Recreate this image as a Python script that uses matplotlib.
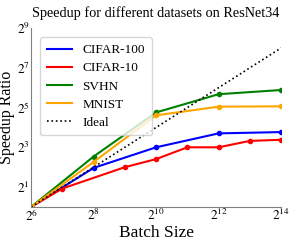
import matplotlib
matplotlib.use('Agg')
import matplotlib.pyplot as plt
from matplotlib.lines import Line2D

plt.rcParams['font.family'] = ['Liberation Serif', 'DejaVu Serif']
plt.rcParams['mathtext.fontset'] = 'stix'

# batch sizes (log2) and speedup ratios
x_main = [6, 8, 10, 12, 14]
x_red = [6, 7, 9, 10, 11, 12, 13, 14]

cifar100 = [1.0, 3.9, 8.0, 13.0, 13.6]
cifar10 = [1.0, 1.9, 4.0, 5.3, 8.0, 8.0, 10.0, 10.4]
svhn = [1.0, 5.8, 27.0, 51.0, 59.0]
mnist = [1.0, 4.8, 24.4, 33.0, 33.4]

ideal_x = [6, 14]
ideal_y = [1, 256]

names = ['CIFAR-100', 'CIFAR-10', 'SVHN', 'MNIST']
colors = ['blue', 'red', 'green', 'orange']


def bs(v):
    return [2 ** i for i in v]


fig = plt.figure(figsize=(2.91, 2.42), dpi=100)
ax = fig.add_axes([0.107, 0.145, 0.859, 0.739])

series = [(x_main, cifar100), (x_red, cifar10), (x_main, svhn), (x_main, mnist)]
for (xs, ys), c in zip(series, colors):
    ax.plot(bs(xs), ys, '-o', color=c, lw=1.5, ms=3)
ax.plot(bs(ideal_x), ideal_y, ':', color='black', lw=1.2)

ax.set_xscale('log', base=2)
ax.set_yscale('log', base=2)
ax.set_xlim(2 ** 6, 2 ** 14)
ax.set_ylim(1, 2 ** 9)
ax.set_xticks([2 ** i for i in [6, 8, 10, 12, 14]])
ax.set_xticklabels([r'$2^{%d}$' % i for i in [6, 8, 10, 12, 14]])
ax.set_yticks([2 ** i for i in [1, 3, 5, 7, 9]])
ax.set_yticklabels([r'$2^{%d}$' % i for i in [1, 3, 5, 7, 9]])
ax.minorticks_off()
ax.tick_params(length=0, labelsize=9.5, pad=1)

for s in ['top', 'right']:
    ax.spines[s].set_visible(False)
for s in ['left', 'bottom']:
    ax.spines[s].set_color('gray')

ax.set_title('Speedup for different datasets on ResNet34', fontsize=10.3, pad=8)
ax.set_xlabel('Batch Size', fontsize=12.5, labelpad=1)
ax.set_ylabel('Speedup Ratio', fontsize=11.5, labelpad=1)

handles = [Line2D([], [], color=c, lw=1.5) for c in colors]
handles.append(Line2D([], [], color='black', ls=':', lw=1.2))
ax.legend(handles, names + ['Ideal'], loc='upper left', fontsize=9.5,
          handlelength=1.9, borderpad=0.5, labelspacing=0.45,
          bbox_to_anchor=(0.01, 0.985))

plt.savefig('out.png', dpi=100)
